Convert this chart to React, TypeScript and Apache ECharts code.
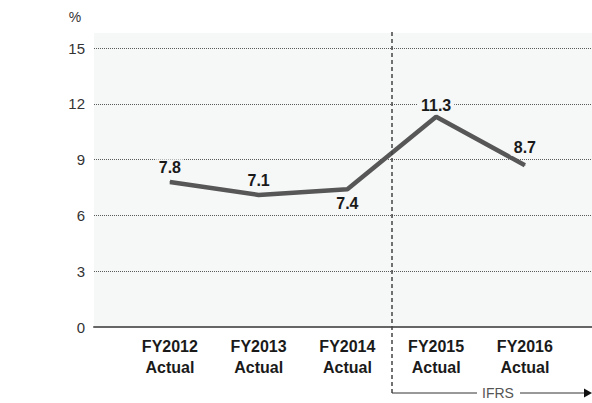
import React, { useEffect, useRef } from "react";
import * as echarts from "echarts";

const categories = ["FY2012\nActual", "FY2013\nActual", "FY2014\nActual", "FY2015\nActual", "FY2016\nActual"];
const values = [7.8, 7.1, 7.4, 11.3, 8.7];
const labelBelow = [false, false, true, false, false];
const yTicks = { min: 0, max: 15, interval: 3 };

const BG = "#f6f7f7";
const labelDistance = [6, 6, 6, 3, 9];

export default function App() {
  const ref = useRef<HTMLDivElement>(null);
  useEffect(() => {
    if (!ref.current) return;
    const chart = echarts.init(ref.current, null, { renderer: "svg" });
    chart.setOption({
      animation: false,
      textStyle: { fontFamily: "'Liberation Sans', Arial, Helvetica, sans-serif" },
      grid: [
        { left: 94, right: 0, top: 48, bottom: 76, show: true, backgroundColor: BG, borderWidth: 0 },
        { left: 125.5, width: 443.75, top: 48, bottom: 76 },
      ],
      xAxis: [
        {
          gridIndex: 0,
          type: "category",
          data: [""],
          axisLine: { show: true, lineStyle: { color: "#666", width: 2 } },
          axisTick: { show: false },
          axisLabel: { show: false },
          splitLine: { show: false },
          z: 5,
        },
        {
          gridIndex: 1,
          type: "category",
          data: categories,
          boundaryGap: true,
          axisLine: { show: false },
          axisTick: { show: false },
          axisLabel: {
            fontSize: 16,
            fontWeight: "bold",
            color: "#1a1a1a",
            lineHeight: 21,
            margin: 9,
          },
        },
      ],
      yAxis: [
        {
          gridIndex: 0,
          type: "value",
          min: yTicks.min,
          max: yTicks.max,
          interval: yTicks.interval,
          axisLine: { show: false },
          axisTick: { show: false },
          axisLabel: { fontSize: 15, color: "#333", margin: 9 },
          splitLine: { lineStyle: { color: "#5a5a5a", type: [1, 1], width: 1 } },
        },
        {
          gridIndex: 1,
          type: "value",
          min: yTicks.min,
          max: yTicks.max,
          show: false,
        },
      ],
      series: [
        {
          type: "line",
          xAxisIndex: 1,
          yAxisIndex: 1,
          data: values.map((v, i) => ({
            value: v,
            label: { position: labelBelow[i] ? "bottom" : "top", distance: labelDistance[i] },
          })),
          symbol: "circle",
          symbolSize: 1,
          lineStyle: { color: "#575757", width: 4.5 },
          itemStyle: { color: "#575757" },
          label: {
            show: true,
            fontSize: 16,
            fontWeight: "bold",
            color: "#1a1a1a",
            backgroundColor: BG,
            padding: [0, 3],
            formatter: (p: any) => p.value.toFixed(1),
          },
          z: 3,
        },
      ],
      graphic: [
        { type: "rect", shape: { x: 94, y: 33, width: 498, height: 15 }, style: { fill: BG }, z: -10, silent: true },
        { type: "text", style: { x: 75, y: 17, text: "%", fontSize: 14, fill: "#333", textAlign: "center", textVerticalAlign: "middle", fontFamily: "'Liberation Sans', Arial, sans-serif" } },
        { type: "line", shape: { x1: 392, y1: 32, x2: 392, y2: 393 }, style: { stroke: "#444", lineWidth: 1.5, lineDash: [4, 3] }, z: 100 },
        { type: "line", shape: { x1: 392, y1: 393, x2: 477, y2: 393 }, style: { stroke: "#333", lineWidth: 1 }, z: 100 },
        { type: "line", shape: { x1: 520, y1: 393, x2: 586, y2: 393 }, style: { stroke: "#333", lineWidth: 1 }, z: 100 },
        { type: "polygon", shape: { points: [[584, 388.5], [592, 393], [584, 397.5]] }, style: { fill: "#111" }, z: 100 },
        { type: "text", style: { x: 498, y: 393, text: "IFRS", fontSize: 14, fill: "#555", textAlign: "center", textVerticalAlign: "middle", fontFamily: "'Liberation Sans', Arial, sans-serif" }, z: 100 },
      ],
    });
    return () => chart.dispose();
  }, []);
  return <div ref={ref} style={{ width: 592, height: 403, position: "absolute", left: 0, top: 0 }} />;
}
